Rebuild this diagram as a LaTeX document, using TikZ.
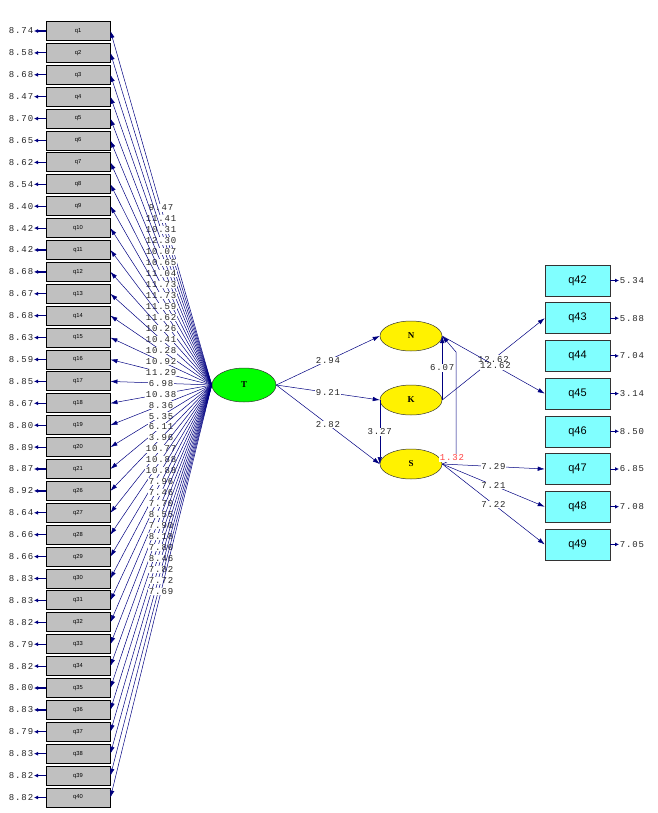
\documentclass[tikz,border=0pt]{standalone}
\usepackage{fontspec}
\usetikzlibrary{arrows.meta, shapes.geometric}
\setmainfont{Liberation Sans}
\newfontfamily\numfont[LetterSpace=10]{Liberation Mono}
\newfontfamily\latfont{Liberation Serif}
\definecolor{pathblue}{RGB}{0,0,128}
\definecolor{obsgray}{RGB}{192,192,192}
\definecolor{obscyan}{RGB}{128,255,255}
\definecolor{tred}{RGB}{255,64,64}
\tikzset{
    item/.style = {draw=black, line width=0.9pt, fill=obsgray, minimum width=64pt, minimum height=19pt, inner sep=0pt, font=\fontsize{5.8}{6}\selectfont},
    outitem/.style = {draw=black!80, line width=0.6pt, fill=obscyan, minimum width=65pt, minimum height=31pt, inner sep=0pt, font=\fontsize{11}{12}\selectfont},
    latent/.style = {ellipse, draw=black!80, line width=0.5pt, inner sep=0pt, font=\latfont\bfseries\fontsize{9}{10}\selectfont},
    coef/.style = {font=\numfont\fontsize{9}{10}\selectfont, text=black!85, fill=white, inner sep=0.6pt},
    link/.style = {draw=pathblue, line width=0.5pt, -{Latex[length=7pt,width=4.5pt]}},
    err/.style = {draw=pathblue, line width=1.2pt, -{Latex[length=4pt,width=4pt]}},
}

\begin{document}
\begin{tikzpicture}[x=1pt, y=-1pt]
    \useasboundingbox (0,0) rectangle (657,813);

    % general factor
    \node[latent, fill=green, minimum width=64pt, minimum height=34pt] (T) at (244,385) {T};

    % left indicators
    \foreach \q/\e/\l [count=\i] in {1/8.74/9.47, 2/8.58/11.41, 3/8.68/10.31, 4/8.47/12.30,
        5/8.70/10.07, 6/8.65/10.65, 7/8.62/11.04, 8/8.54/11.73, 9/8.40/11.73,
        10/8.42/11.59, 11/8.42/11.62, 12/8.68/10.26, 13/8.67/10.41, 14/8.68/10.28,
        15/8.63/10.92, 16/8.59/11.29, 17/8.85/6.98, 18/8.67/10.38, 19/8.80/8.36,
        20/8.89/5.35, 21/8.87/6.11, 26/8.92/3.96, 27/8.64/10.77, 28/8.66/10.88,
        29/8.66/10.88, 30/8.83/7.96, 31/8.83/7.46, 32/8.82/7.70, 33/8.79/8.55,
        34/8.82/7.90, 35/8.80/8.18, 36/8.83/7.80, 37/8.79/8.46, 38/8.83/7.82,
        39/8.82/7.72, 40/8.82/7.69} {
        \pgfmathsetmacro\yy{31+21.9*(\i-1)}
        \node[item] (q\q) at (78,\yy) {q\q};
        \node[coef, fill=none, anchor=east] (e\q) at (34,\yy) {\e};
        \draw[err] (q\q.west) -- (e\q.east);
        \draw[link] (T.west) -- node[coef] (l\q) {\l} (q\q.east);
    }

    % right indicators
    \foreach \q/\e [count=\j] in {42/5.34, 43/5.88, 44/7.04, 45/3.14, 46/8.50, 47/6.85, 48/7.08, 49/7.05} {
        \pgfmathsetmacro\yy{280.5+37.7*(\j-1)}
        \node[outitem] (q\q) at (577.5,\yy) {q\q};
        \node[coef, fill=none, anchor=west] (e\q) at (619,\yy) {\e};
        \draw[err, line width=0.9pt] (q\q.east) -- (e\q.west);
    }

    % sub factors
    \node[latent, fill=yellow, minimum width=62pt, minimum height=30pt] (N) at (411,336) {N};
    \node[latent, fill=yellow, minimum width=62pt, minimum height=30pt] (K) at (411,400) {K};
    \node[latent, fill=yellow, minimum width=62pt, minimum height=30pt] (S) at (411,464) {S};

    \draw[link] (T.east) -- node[coef] (b1) {2.94} (N.west);
    \draw[link] (T.east) -- node[coef] (b2) {9.21} (K.west);
    \draw[link] (T.east) -- node[coef] (b3) {2.82} (S.west);
    \draw[link] (K.west) -- node[coef] (b4) {3.27} (S.west);
    \draw[link] (K.east) -- node[coef] (b5) {6.07} (N.east);

    \coordinate (up1) at (456,458);
    \coordinate (up2) at (456,352);
    \draw[link] (S.east) -- (up1) -- (up2) -- (N.east);
    \node[coef, text=tred] (b6) at (452,458) {1.32};

    \draw[link] (K.east) -- node[coef] (b7) {12.62} (q43.west);
    \draw[link] (N.east) -- node[coef, pos=0.52] (b8) {12.62} (q45.west);
    \draw[link] (S.east) -- node[coef] (b9) {7.29} (q47.west);
    \draw[link] (S.east) -- node[coef] (b10) {7.21} (q48.west);
    \draw[link] (S.east) -- node[coef] (b11) {7.22} (q49.west);
\end{tikzpicture}
\end{document}
